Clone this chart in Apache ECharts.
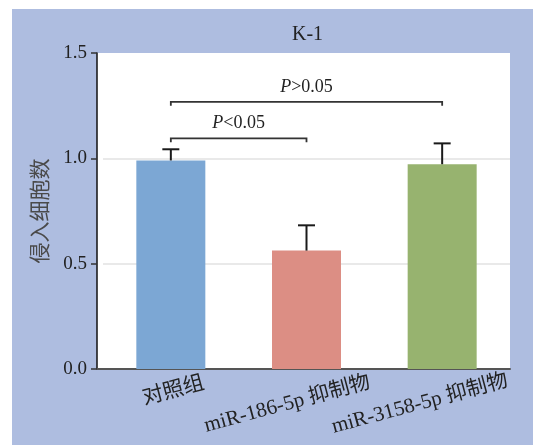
<!DOCTYPE html>
<html>
<head>
<meta charset="utf-8">
<script src="https://cdn.jsdelivr.net/npm/echarts@6/dist/echarts.min.js"></script>
<style>
html, body { margin: 0; padding: 0; background: #fff; }
#main { width: 533px; height: 445px; }
</style>
</head>
<body>
<div id="main"></div>
<script>
// 数据
var categories = ['对照组', 'miR-186-5p 抑制物', 'miR-3158-5p 抑制物'];
var means = [0.99, 0.562, 0.972];
var errs = [0.053, 0.12, 0.099];
var barColors = ['#7ca7d4', '#dc8e84', '#97b36f'];
var yTicks = [0, 0.5, 1.0, 1.5];
// 显著性标注
var bracketFrom = [0, 0];
var bracketTo = [2, 1];
var bracketY = [1.268, 1.095];
var bracketText = ['>0.05', '<0.05'];

var serif = '"Liberation Serif", "Noto Sans CJK SC", serif';

// x轴标签, 长标签往左下挪一点
var labelPad = [[0, 0, 0, 0], [7, 49, 0, 0], [6, 55, 0, 0]];
var xData = categories.map(function (c, i) {
	return { value: c, textStyle: { padding: labelPad[i], align: 'center', verticalAlign: 'top' } };
});

var errData = means.map(function (m, i) { return [i, m, errs[i]]; });
var brData = bracketFrom.map(function (f, i) { return [f, bracketTo[i], bracketY[i], i]; });

var chart = echarts.init(document.getElementById('main'));
var option = {
	backgroundColor: '#fff',
	animation: false,
	graphic: [{
		type: 'rect', z: -10, silent: true,
		shape: { x: 12, y: 9, width: 521, height: 436 },
		style: { fill: '#aebde0' }
	}, {
		type: 'rect', z: -5, silent: true,
		shape: { x: 97, y: 53, width: 6, height: 316 },
		style: { fill: '#fff' }
	}, {
		type: 'line', z: 10, silent: true,
		shape: { x1: 97, y1: 369, x2: 104, y2: 369 },
		style: { stroke: '#555', lineWidth: 2 }
	}],
	title: {
		text: 'K-1',
		left: 287,
		top: 20,
		textStyle: { fontFamily: serif, fontSize: 20, fontWeight: 'normal', color: '#222' }
	},
	grid: {
		left: 103, right: 23, top: 53, bottom: 76,
		show: true, backgroundColor: '#fff', borderWidth: 0
	},
	xAxis: {
		type: 'category',
		data: xData,
		axisLine: { lineStyle: { color: '#555', width: 2 } },
		axisTick: { alignWithLabel: true, length: 4, lineStyle: { color: '#444' } },
		axisLabel: {
			rotate: 15,
			align: 'center',
			verticalAlign: 'top',
			margin: 12,
			interval: 0,
			fontFamily: serif,
			fontSize: 21,
			color: '#222'
		}
	},
	yAxis: {
		type: 'value',
		min: 0, max: 1.5, interval: 0.5,
		offset: 6,
		name: '侵入细胞数',
		nameLocation: 'middle',
		nameGap: 45,
		nameRotate: 90,
		nameTextStyle: { fontFamily: serif, fontSize: 21, color: '#4a4a4a' },
		axisLine: { show: true, lineStyle: { color: '#111', width: 1.5 } },
		axisTick: { show: true, length: 6, lineStyle: { color: '#333', width: 1.5 } },
		axisLabel: {
			margin: 10,
			fontFamily: serif,
			fontSize: 19,
			color: '#222',
			formatter: function (v) { return yTicks.indexOf(v) >= 0 ? v.toFixed(1) : ''; }
		},
		splitLine: { show: true, showMinLine: false, showMaxLine: false, lineStyle: { color: '#e2e2e2', width: 1.5 } }
	},
	series: [{
		type: 'bar',
		barWidth: 69,
		data: means.map(function (m, i) {
			return { value: m, itemStyle: { color: barColors[i] } };
		})
	}, {
		// 误差线
		type: 'custom',
		data: errData,
		z: 5,
		clip: false,
		renderItem: function (params, api) {
			var x = api.value(0);
			var top = api.coord([x, api.value(1) + api.value(2)]);
			var base = api.coord([x, api.value(1)]);
			var hw = 8.5;
			return {
				type: 'group',
				children: [{
					type: 'line',
					shape: { x1: base[0], y1: base[1], x2: top[0], y2: top[1] },
					style: { stroke: '#1a1a1a', lineWidth: 2 }
				}, {
					type: 'line',
					shape: { x1: top[0] - hw, y1: top[1], x2: top[0] + hw, y2: top[1] },
					style: { stroke: '#1a1a1a', lineWidth: 2 }
				}]
			};
		}
	}, {
		// P值括号
		type: 'custom',
		data: brData,
		z: 5,
		clip: false,
		renderItem: function (params, api) {
			var p0 = api.coord([api.value(0), api.value(2)]);
			var p1 = api.coord([api.value(1), api.value(2)]);
			var d = 4;
			return {
				type: 'group',
				children: [{
					type: 'polyline',
					shape: { points: [[p0[0], p0[1] + d], [p0[0], p0[1]], [p1[0], p1[1]], [p1[0], p1[1] + d]] },
					style: { stroke: '#333', lineWidth: 1.8, fill: null }
				}, {
					type: 'text',
					style: {
						x: (p0[0] + p1[0]) / 2,
						y: p0[1] - 15,
						text: '{i|P}{n|' + bracketText[api.value(3)] + '}',
						align: 'center',
						verticalAlign: 'middle',
						rich: {
							i: { fontFamily: serif, fontSize: 18, fontStyle: 'italic', fill: '#222' },
							n: { fontFamily: serif, fontSize: 18, fill: '#222' }
						}
					}
				}]
			};
		}
	}]
};
chart.setOption(option);
</script>
</body>
</html>
